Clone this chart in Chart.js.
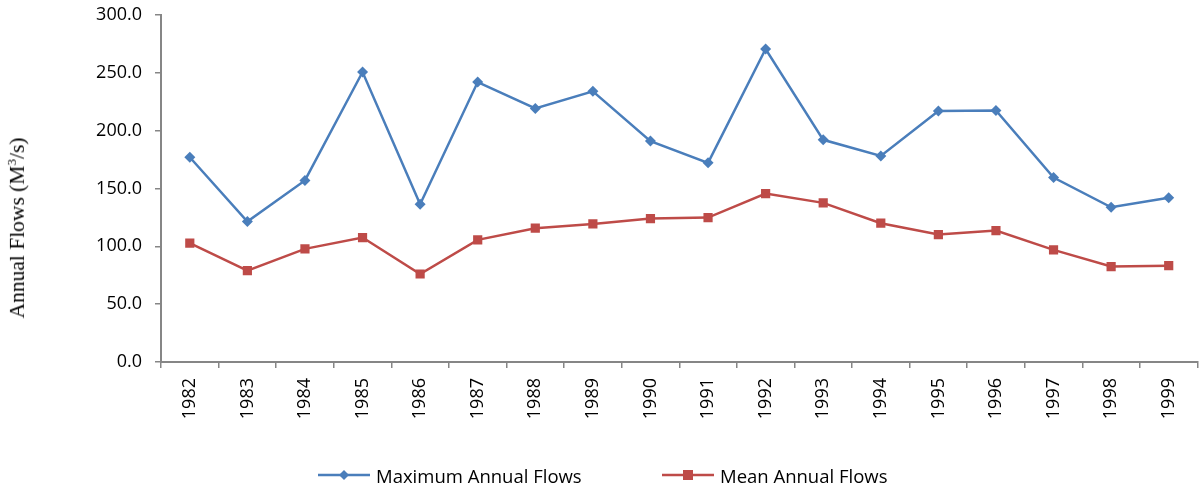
<!DOCTYPE html>
<html>
<head>
<meta charset="utf-8">
<script src="https://cdn.jsdelivr.net/npm/chart.js@4"></script>
<style>
  html, body { margin: 0; padding: 0; background: #fff; }
  #wrap { position: relative; width: 1199px; height: 490px; overflow: hidden; }
  #yTitle {
    position: absolute; left: 17px; top: 228px;
    transform: translate(-50%, -50%) rotate(-90deg);
    font-family: "Liberation Serif", serif; font-size: 21.5px; color: #000;
    white-space: nowrap;
  }
  #legend {
    position: absolute; top: 462px; left: 0; width: 1199px;
    font-family: "Open Sans", sans-serif; font-size: 18.5px; color: #000;
  }
  .item { position: absolute; top: 0; display: flex; align-items: center; height: 26px; }
  .item canvas { margin-right: 6px; }
</style>
</head>
<body>
<div id="wrap">
  <!-- slightly wider than the window: the x scale keeps a few px of right padding for its last label -->
  <canvas id="chart" width="1204" height="490"></canvas>
  <div id="yTitle">Annual Flows (M<sup style="font-size:13px">3</sup>/s)</div>
  <div id="legend"></div>
</div>
<script>
const years = ['1982', '1983', '1984', '1985', '1986', '1987', '1988', '1989', '1990',
  '1991', '1992', '1993', '1994', '1995', '1996', '1997', '1998', '1999'];
const maxFlows = [177, 121.4, 157, 250.7, 136.4, 242, 219.2, 234, 191, 172.2, 270.6,
  192.1, 178.2, 217, 217.5, 159.5, 133.8, 142];
const meanFlows = [102.7, 79, 97.8, 107.6, 76.1, 105.6, 115.7, 119.4, 124, 124.9, 145.6,
  137.6, 120, 110.2, 113.6, 96.9, 82.5, 83.3];
const yTicks = [0, 50, 100, 150, 200, 250, 300];

const BLUE = '#4A7EBB';
const RED = '#BE4B48';
const AXIS = '#868686';
const tickFont = { family: 'Open Sans', size: 18 };

new Chart(document.getElementById('chart'), {
  type: 'line',
  data: {
    labels: years,
    datasets: [
      {
        label: 'Maximum Annual Flows',
        data: maxFlows,
        borderColor: BLUE,
        backgroundColor: BLUE,
        borderWidth: 2.5,
        pointStyle: 'rectRot',
        pointRadius: 5.5,
        pointBorderWidth: 0,
        tension: 0,
      },
      {
        label: 'Mean Annual Flows',
        data: meanFlows,
        borderColor: RED,
        backgroundColor: RED,
        borderWidth: 2.5,
        pointStyle: 'rect',
        pointRadius: 6.5,
        pointBorderWidth: 0,
        tension: 0,
      },
    ],
  },
  options: {
    responsive: false,
    animation: false,
    layout: { padding: { top: 15, right: 0, left: 0, bottom: 0 } },
    plugins: { legend: { display: false }, tooltip: { enabled: false } },
    scales: {
      x: {
        offset: true,
        grid: { offset: true, drawOnChartArea: false, drawTicks: true, tickLength: 6, color: AXIS, lineWidth: 1.5 },
        border: { color: AXIS, width: 2 },
        ticks: { color: '#000', font: tickFont, minRotation: 90, maxRotation: 90, padding: 10, autoSkip: false },
        afterFit: (s) => { s.height = 128; },
      },
      y: {
        min: 0,
        max: 300,
        afterBuildTicks: (s) => { s.ticks = yTicks.map((v) => ({ value: v })); },
        grid: { drawOnChartArea: false, drawTicks: true, tickLength: 6, color: AXIS, lineWidth: 1.5 },
        border: { color: AXIS, width: 2 },
        ticks: { color: '#000', font: tickFont, padding: 13, callback: (v) => Number(v).toFixed(1) },
        afterFit: (s) => { s.width = 161; s.paddingTop = 0; s.paddingBottom = 0; },
      },
    },
  },
});

// legend: line sample with marker, like the spreadsheet legend
function legendItem(text, color, shape, left) {
  const item = document.createElement('div');
  item.className = 'item';
  item.style.left = left + 'px';
  const c = document.createElement('canvas');
  c.width = 52; c.height = 14;
  const g = c.getContext('2d');
  g.strokeStyle = color; g.lineWidth = 2.5;
  g.beginPath(); g.moveTo(0, 7); g.lineTo(52, 7); g.stroke();
  g.fillStyle = color;
  if (shape === 'diamond') {
    g.beginPath(); g.moveTo(26, 2); g.lineTo(31, 7); g.lineTo(26, 12); g.lineTo(21, 7); g.closePath(); g.fill();
  } else {
    g.fillRect(21, 2, 10, 10);
  }
  item.appendChild(c);
  const span = document.createElement('span');
  span.textContent = text;
  item.appendChild(span);
  document.getElementById('legend').appendChild(item);
}
legendItem('Maximum Annual Flows', BLUE, 'diamond', 318);
legendItem('Mean Annual Flows', RED, 'square', 662);
</script>
</body>
</html>
